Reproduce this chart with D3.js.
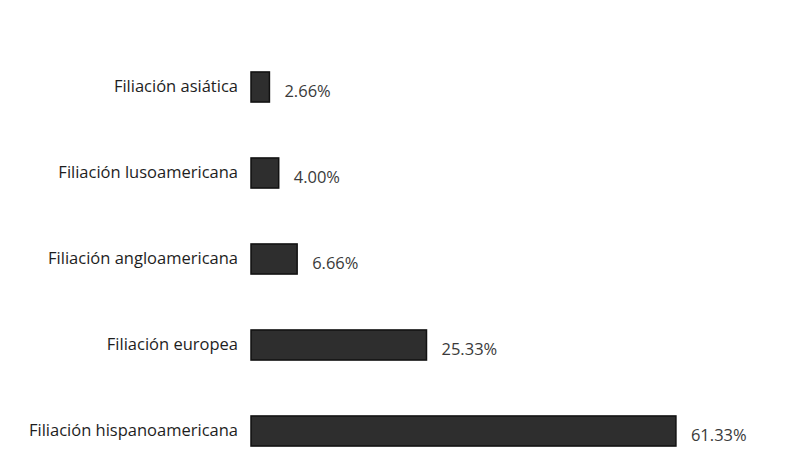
<!DOCTYPE html>
<html><head><meta charset="utf-8">
<script src="https://cdn.jsdelivr.net/npm/d3@7"></script>
<style>html,body{margin:0;padding:0;background:#fff;}svg{display:block;}</style>
</head><body>
<svg id="chart" width="793" height="465"></svg>
<script>
const categories = ["Filiación asiática","Filiación lusoamericana","Filiación angloamericana","Filiación europea","Filiación hispanoamericana"];
const values = [2.66, 4.00, 6.66, 25.33, 61.33];
const valueLabels = ["2.66%","4.00%","6.66%","25.33%","61.33%"];

const svg = d3.select("#chart");
const x = d3.scaleLinear().domain([0, 70]).range([251, 736]);
const y = d3.scaleBand().domain(categories).range([44, 474]).paddingInner(0.65).paddingOuter(0.325);

const data = categories.map((c,i)=>({c, v: values[i], l: valueLabels[i]}));

svg.append("g").selectAll("rect").data(data).join("rect")
  .attr("x", x(0)).attr("y", d=>y(d.c))
  .attr("width", d=>x(d.v)-x(0)).attr("height", y.bandwidth())
  .attr("fill", "#2e2e2e").attr("stroke", "#111").attr("stroke-width", 1.5);

const yAxis = d3.axisLeft(y).tickSize(0).tickPadding(13);
const ag = svg.append("g").attr("transform", `translate(${x(0)},0)`).call(yAxis);
ag.select(".domain").remove();
ag.selectAll("text").attr("font-family", "'Open Sans', sans-serif").attr("font-size", 16.5).attr("fill", "#1e1e1e");

svg.append("g").selectAll("text").data(data).join("text")
  .attr("x", d=>x(d.v)+15).attr("y", d=>y(d.c)+y.bandwidth()/2+6)
  .attr("dominant-baseline", "middle")
  .attr("font-family", "'Open Sans', sans-serif").attr("font-size", 16.5)
  .attr("fill", "#3a3a3a").text(d=>d.l);
</script>
</body></html>
